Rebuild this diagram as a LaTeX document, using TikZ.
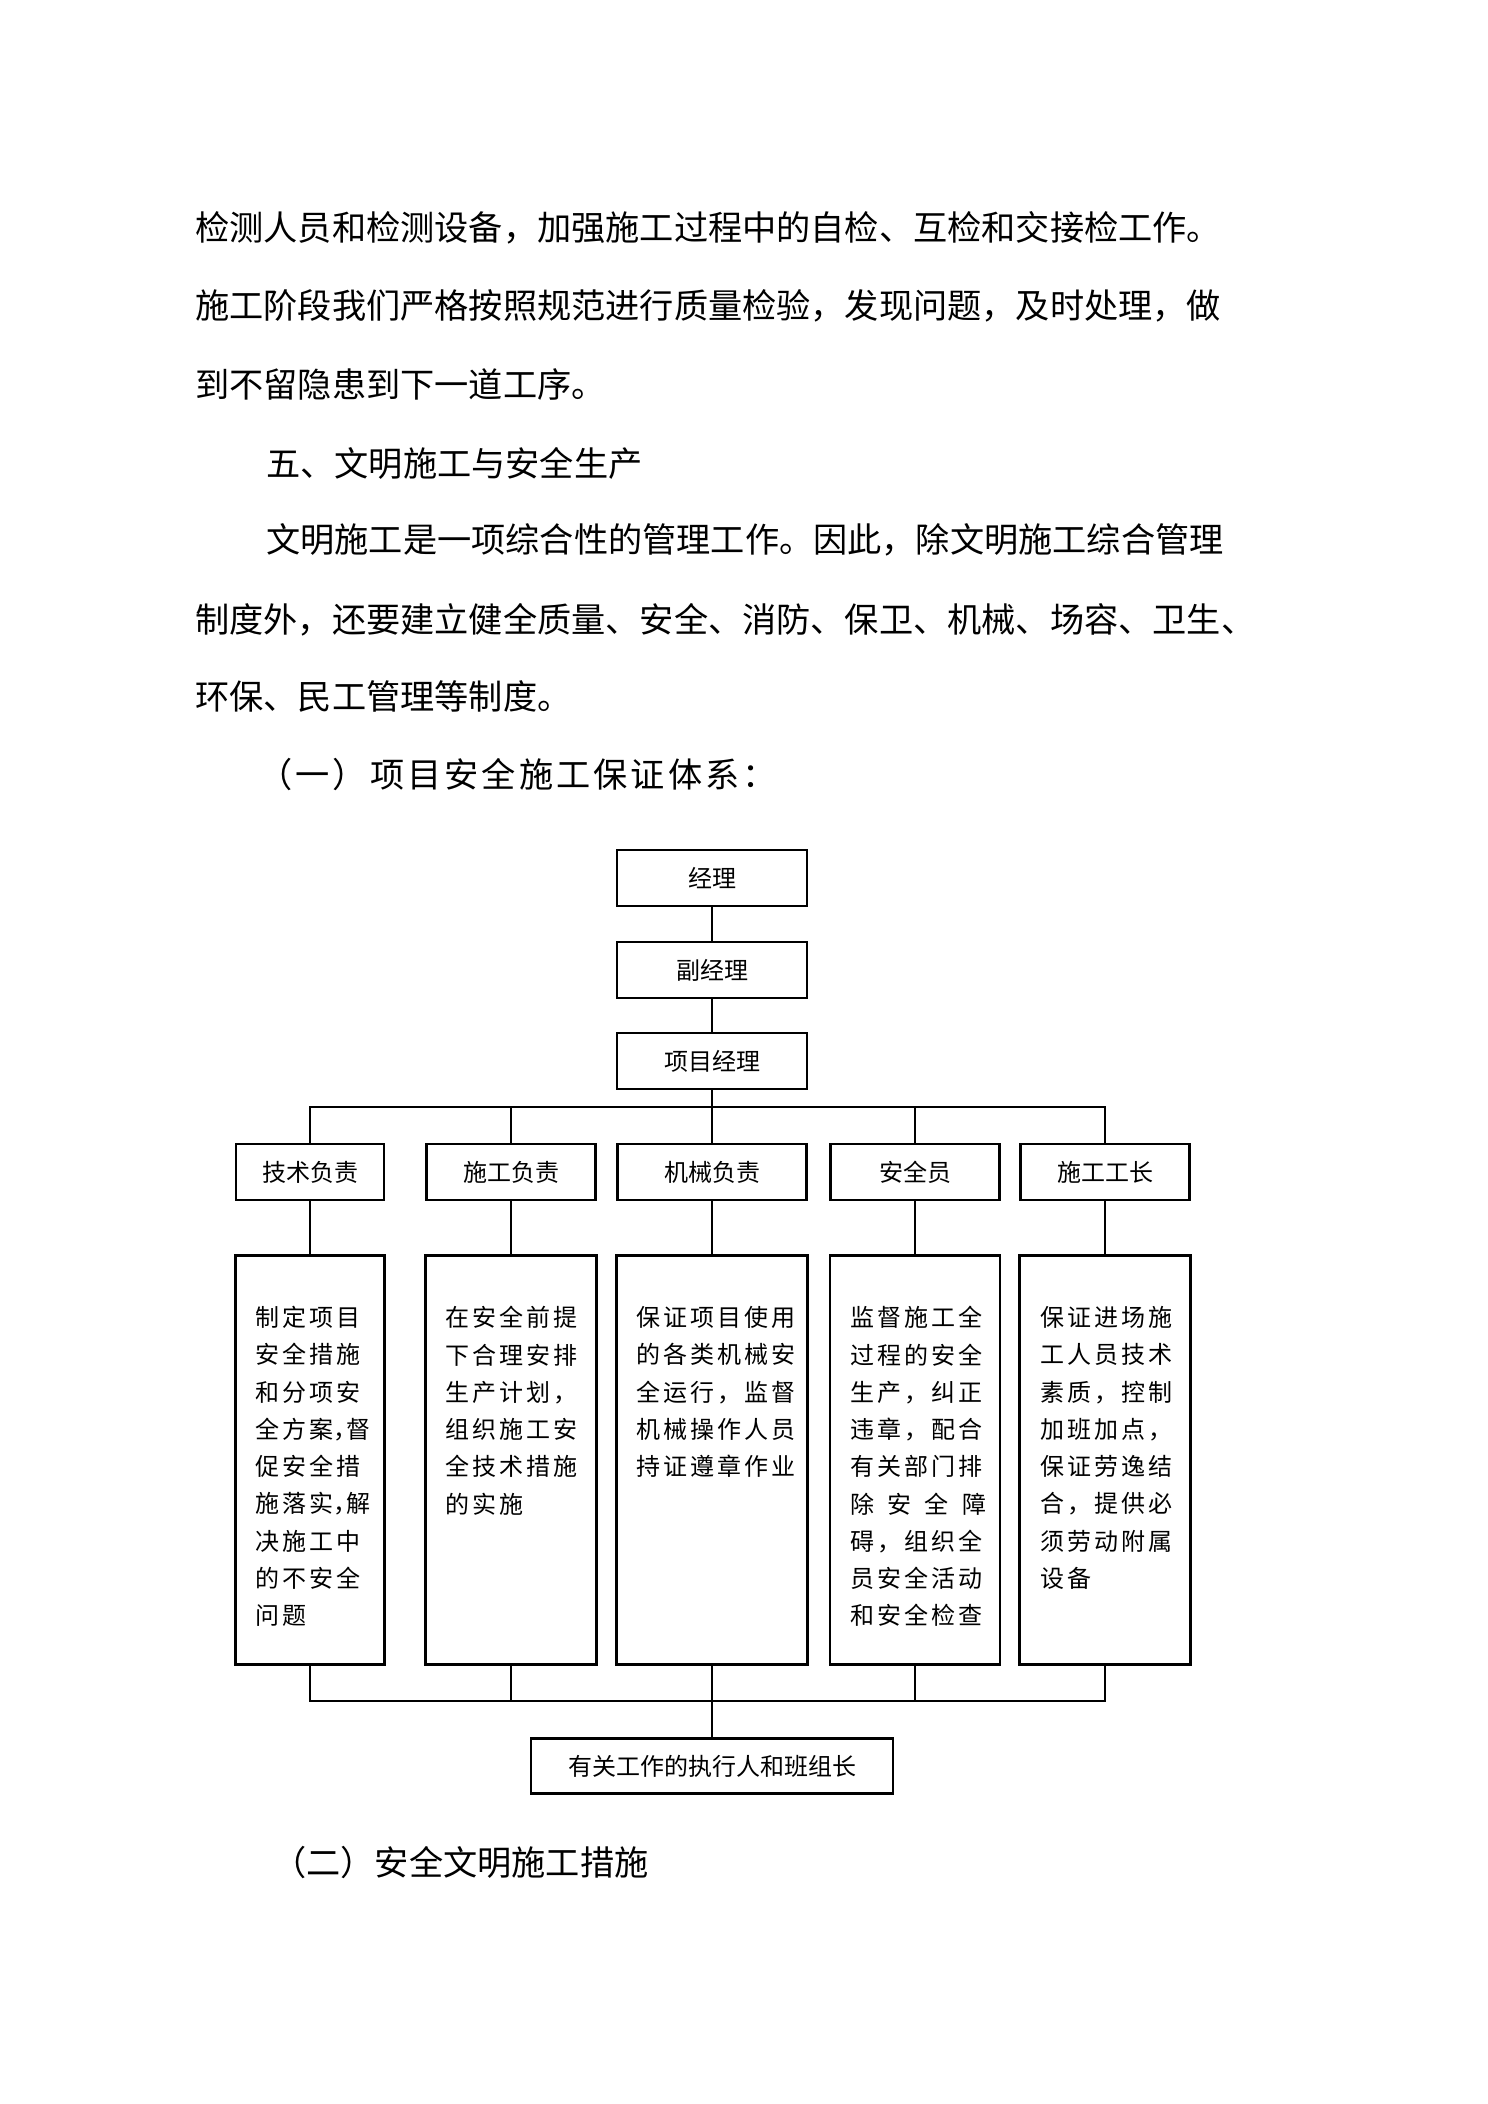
\documentclass[tikz,border=0pt]{standalone}
\usepackage{fontspec}
\setmainfont{Noto Sans CJK SC}
\newfontfamily\dutyfont[LetterSpace=12.5]{Noto Sans CJK SC}
\newfontfamily\widefont[LetterSpace=9]{Noto Sans CJK SC}
\usetikzlibrary{positioning}
\newcommand{\narrowcomma}{\makebox[0.55em][l]{，}}
\tikzset{
  box/.style  ={draw,line width=1.3pt,inner sep=0pt,font=\fontsize{13.66pt}{16pt}\selectfont},
  top/.style  ={box,minimum width=3.8cm,minimum height=1.13cm},
  post/.style ={box,minimum height=1.12cm},
  duty/.style ={draw,line width=1.3pt,inner sep=0pt,minimum height=8.18cm},
  dtxt/.style ={anchor=north west,inner sep=0pt,align=left,
                font=\dutyfont\fontsize{13.66pt}{21.2pt}\selectfont},
  para/.style ={anchor=west,inner sep=0pt,font=\fontsize{19.46pt}{24pt}\selectfont},
  link/.style ={line width=1pt},
}

\begin{document}
\begin{tikzpicture}[x=0.02cm,y=-0.02cm]
  \useasboundingbox (0,0) rectangle (1488,2104);

  % running text
  \node[para] (p1) at (195,228) {检测人员和检测设备，加强施工过程中的自检、互检和交接检工作。};
  \node[para] (p2) at (195,306) {施工阶段我们严格按照规范进行质量检验，发现问题，及时处理，做};
  \node[para] (p3) at (195,384) {到不留隐患到下一道工序。};
  \node[para] (h5) at (266,463) {五、文明施工与安全生产};
  \node[para] (p4) at (266,540) {文明施工是一项综合性的管理工作。因此，除文明施工综合管理};
  \node[para] (p5) at (195,620) {制度外，还要建立健全质量、安全、消防、保卫、机械、场容、卫生、};
  \node[para] (p6) at (195,696) {环保、民工管理等制度。};
  \node[para] (h51) at (258,774) {\widefont（一）项目安全施工保证体系：};
  \node[para] (h52) at (272,1862) {（二）安全文明施工措施};

  % chain of command
  \node[top] (gm)  at (712,878)  {经理};
  \node[top] (dgm) at (712,970)  {副经理};
  \node[top] (pm)  at (712,1061) {项目经理};

  \node[post,minimum width=2.96cm] (r1) at (310,1172)  {技术负责};
  \node[post,minimum width=3.38cm] (r2) at (511,1172)  {施工负责};
  \node[post,minimum width=3.78cm] (r3) at (712,1172)  {机械负责};
  \node[post,minimum width=3.38cm] (r4) at (915,1172)  {安全员};
  \node[post,minimum width=3.38cm] (r5) at (1105,1172) {施工工长};

  % duty boxes
  \node[duty,minimum width=2.98cm] (d1) at (310,1460)  {};
  \node[duty,minimum width=3.42cm] (d2) at (511,1460)  {};
  \node[duty,minimum width=3.82cm] (d3) at (712,1460)  {};
  \node[duty,minimum width=3.40cm] (d4) at (915,1460)  {};
  \node[duty,minimum width=3.42cm] (d5) at (1105,1460) {};

  \node[dtxt,text width=2.3cm] (t1) at (255,1306)
    {制定项目\\安全措施\\和分项安\\全方案\narrowcomma 督\\促安全措\\施落实\narrowcomma 解\\决施工中\\的不安全\\问题};
  \node[dtxt,text width=2.72cm] (t2) at (445,1306)
    {在安全前提\\下合理安排\\生产计划，\\组织施工安\\全技术措施\\的实施};
  \node[dtxt,text width=3.1cm] (t3) at (636,1306)
    {保证项目使用\\的各类机械安\\全运行，监督\\机械操作人员\\持证遵章作业};
  \node[dtxt,text width=2.72cm] (t4) at (850,1306)
    {监督施工全\\过程的安全\\生产，纠正\\违章，配合\\有关部门排\\除\hfill 安\hfill 全\hfill 障\\碍，组织全\\员安全活动\\和安全检查};
  \node[dtxt,text width=2.72cm] (t5) at (1040,1306)
    {保证进场施\\工人员技术\\素质，控制\\加班加点，\\保证劳逸结\\合，提供必\\须劳动附属\\设备};

  \node[box,minimum width=7.24cm,minimum height=1.1cm] (exec) at (712,1766) {有关工作的执行人和班组长};

  % connectors
  \coordinate (busT) at (712,1107);
  \coordinate (busB) at (712,1701);
  \draw[link] (gm) -- (dgm);
  \draw[link] (dgm) -- (pm);
  \draw[link] (pm) -- (pm |- busT);
  \draw[link] (r1.north) -- (r1.north |- busT) -- (r5.north |- busT) -- (r5.north);
  \foreach \i in {2,3,4}
    \draw[link] (r\i.north) -- (r\i.north |- busT);
  \foreach \i in {1,...,5}
    \draw[link] (r\i) -- (d\i);
  \draw[link] (d1.south) -- (d1.south |- busB) -- (d5.south |- busB) -- (d5.south);
  \foreach \i in {2,4}
    \draw[link] (d\i.south) -- (d\i.south |- busB);
  \draw[link] (d3) -- (exec);
\end{tikzpicture}
\end{document}
